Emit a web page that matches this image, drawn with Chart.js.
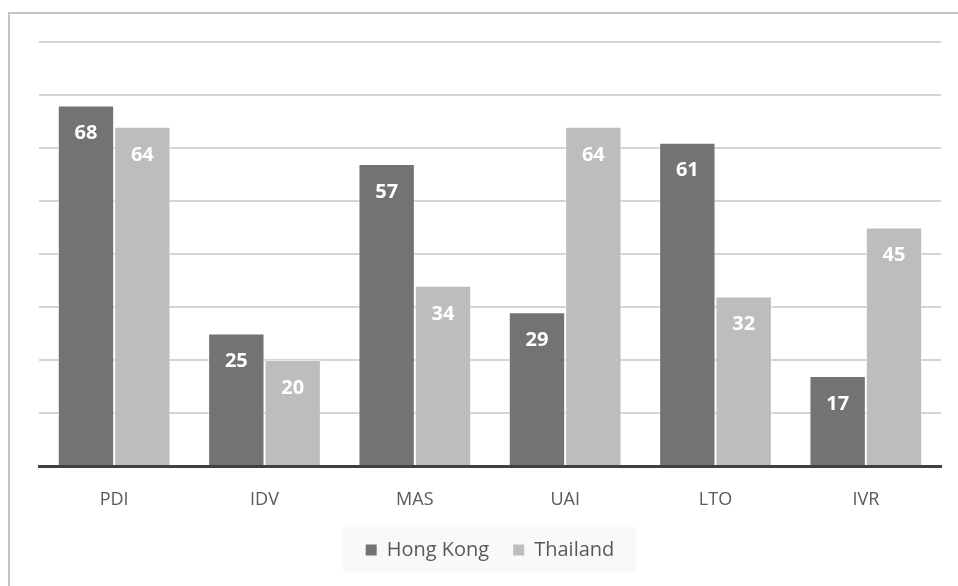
<!DOCTYPE html>
<html>
<head>
<meta charset="utf-8">
<script src="https://cdn.jsdelivr.net/npm/chart.js@4"></script>
<style>
  html, body { margin: 0; padding: 0; background: #fff; }
  #wrap { position: relative; width: 958px; height: 586px; overflow: hidden; }
  #frame { position: absolute; left: 8px; top: 12px; width: 960px; height: 600px;
           border-top: 2px solid #c4c4c4; border-left: 2px solid #c4c4c4; pointer-events: none; }
  canvas { position: absolute; left: 0; top: 0; }
</style>
</head>
<body>
<div id="wrap">
  <canvas id="chart" width="958" height="586"></canvas>
  <div id="frame"></div>
</div>
<script>
// Hofstede dimensions
const categories = ['PDI', 'IDV', 'MAS', 'UAI', 'LTO', 'IVR'];
const hongKong = [68, 25, 57, 29, 61, 17];
const thailand = [64, 20, 34, 64, 32, 45];

const FONT = '"Open Sans", Lato, sans-serif';

// white value labels inside the top of each bar
const valueLabels = {
    id: 'valueLabels',
    afterDraw(chart) {
        const ctx = chart.ctx;
        ctx.save();
        ctx.fillStyle = '#ffffff';
        ctx.font = 'bold 20px ' + FONT;
        ctx.textAlign = 'center';
        ctx.textBaseline = 'middle';
        chart.data.datasets.forEach((ds, i) => {
            chart.getDatasetMeta(i).data.forEach((bar, j) => {
                ctx.fillText(ds.data[j], bar.x, bar.y + 28);
            });
        });
        ctx.restore();
    }
};

// faint panel behind the legend
const legendPanel = {
    id: 'legendPanel',
    beforeDraw(chart) {
        const ctx = chart.ctx;
        ctx.save();
        ctx.fillStyle = '#f9f9f9';
        ctx.fillRect(343, 527, 293, 45);
        ctx.restore();
    }
};

new Chart(document.getElementById('chart').getContext('2d'), {
    type: 'bar',
    data: {
        labels: categories,
        datasets: [
            {
                label: 'Hong Kong',
                data: hongKong,
                backgroundColor: '#737373',
                borderColor: 'rgba(255,255,255,0.45)',
                borderWidth: 1
            },
            {
                label: 'Thailand',
                data: thailand,
                backgroundColor: '#bdbdbd',
                borderColor: 'rgba(255,255,255,0.45)',
                borderWidth: 1
            }
        ]
    },
    options: {
        responsive: false,
        animation: false,
        layout: { padding: { left: 39, right: 17, top: 42, bottom: 16 } },
        datasets: {
            bar: { categoryPercentage: 0.75, barPercentage: 1.0 }
        },
        scales: {
            x: {
                z: 1,
                grid: { display: false, drawTicks: false },
                border: { display: true, color: '#404040', width: 3 },
                ticks: { color: '#595959', font: { family: FONT, size: 18 }, padding: 23 },
                afterFit(scale) { scale.height = 50; }
            },
            y: {
                z: 1,
                min: 0,
                max: 80,
                ticks: { display: false, stepSize: 10 },
                grid: { color: 'rgba(0,0,0,0.17)', lineWidth: 2, drawTicks: false },
                border: { display: false }
            }
        },
        plugins: {
            legend: {
                position: 'bottom',
                labels: {
                    color: '#595959',
                    font: { family: FONT, size: 20 },
                    boxWidth: 11,
                    boxHeight: 11,
                    padding: 24,
                    generateLabels(chart) {
                        return Chart.defaults.plugins.legend.labels.generateLabels(chart)
                            .map(item => Object.assign(item, { lineWidth: 0 }));
                    }
                }
            },
            tooltip: { enabled: false }
        }
    },
    plugins: [legendPanel, valueLabels]
});
</script>
</body>
</html>
